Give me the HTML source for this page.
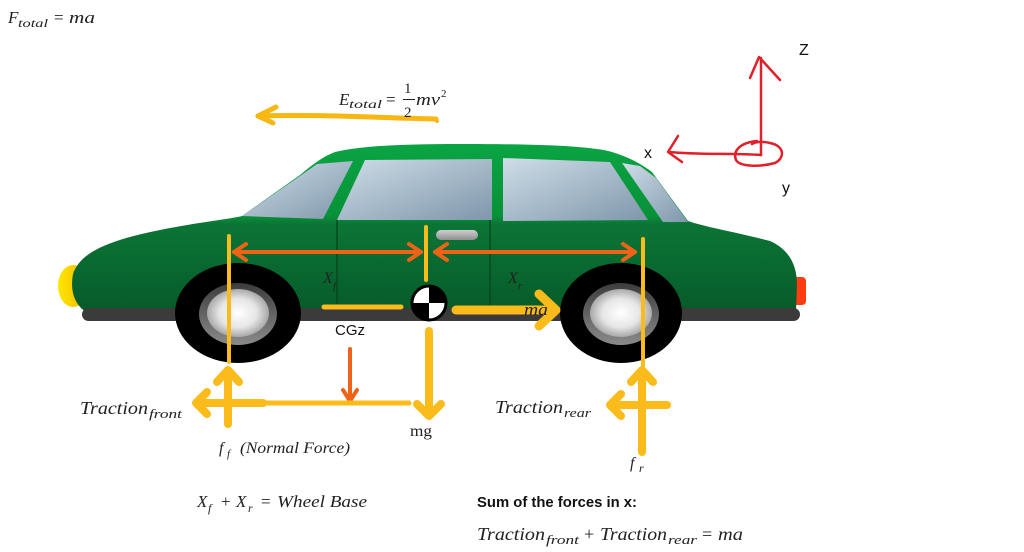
<!DOCTYPE html>
<html><head><meta charset="utf-8"><style>
html,body{margin:0;padding:0;background:#fff;}
svg{display:block;}
.m{font-family:"Liberation Serif",serif;font-style:italic;fill:#222;}
.s{font-family:"Liberation Sans",sans-serif;fill:#111;}
</style></head><body>
<svg width="1024" height="552" viewBox="0 0 1024 552" xmlns="http://www.w3.org/2000/svg">
<defs>
<linearGradient id="body" x1="0" y1="144" x2="0" y2="314" gradientUnits="userSpaceOnUse">
<stop offset="0" stop-color="#0aa443"/>
<stop offset="0.42" stop-color="#089238"/>
<stop offset="0.47" stop-color="#0b7535"/>
<stop offset="1" stop-color="#075a29"/>
</linearGradient>
<linearGradient id="glass" x1="0" y1="0" x2="1" y2="1">
<stop offset="0" stop-color="#cfdde8"/>
<stop offset="1" stop-color="#7e97ab"/>
</linearGradient>
<radialGradient id="hub" cx="0.5" cy="0.5" r="0.5">
<stop offset="0" stop-color="#ffffff"/>
<stop offset="0.6" stop-color="#e6e6e6"/>
<stop offset="1" stop-color="#a8a8a8"/>
</radialGradient>
<linearGradient id="ring" x1="0" y1="0" x2="0" y2="1">
<stop offset="0" stop-color="#3c3c3c"/>
<stop offset="1" stop-color="#8a8a8a"/>
</linearGradient>
<linearGradient id="handle" x1="0" y1="0" x2="0" y2="1">
<stop offset="0" stop-color="#cfcfcf"/>
<stop offset="1" stop-color="#8e8e8e"/>
</linearGradient>
<linearGradient id="flight" x1="0" y1="0" x2="1" y2="0">
<stop offset="0" stop-color="#ffe600"/>
<stop offset="1" stop-color="#f5b800"/>
</linearGradient>
</defs>

<!-- lights -->
<ellipse cx="73" cy="286" rx="15" ry="21" fill="url(#flight)"/>
<rect x="790" y="277" width="16" height="28" rx="4" fill="#ff3b12"/>

<!-- body -->
<path d="M86,312 C74,304 70,290 73,274 C80,252 110,240 160,230 C200,222 230,219 242,216 L300,175 C312,165 322,157 335,152 C360,146 400,144 460,144 C540,144 590,146 612,152 C628,157 640,163 652,172 L688,221 C705,227 740,233 770,241 C790,250 797,266 797,285 L796,312 Z" fill="url(#body)"/>

<!-- windows -->
<polygon points="242,216 300,176 317,164 353,161 323,219" fill="url(#glass)"/>
<polygon points="365,160 492,159 492,220 337,220" fill="url(#glass)"/>
<polygon points="503,158 610,162 648,220 503,221" fill="url(#glass)"/>
<polygon points="622,163 640,166 656,178 688,222 663,222" fill="url(#glass)"/>

<!-- door seams & handle -->
<line x1="337" y1="220" x2="337" y2="310" stroke="#06491f" stroke-width="1.5"/>
<line x1="490" y1="220" x2="490" y2="306" stroke="#06491f" stroke-width="1.5"/>
<rect x="436" y="230" width="42" height="10" rx="5" fill="url(#handle)"/>

<!-- skirt -->
<rect x="82" y="308" width="718" height="13" rx="6.5" fill="#3b3b3b"/>

<!-- wheels -->
<ellipse cx="238" cy="313" rx="63" ry="50" fill="#000"/>
<ellipse cx="238" cy="314" rx="39" ry="31" fill="url(#ring)"/>
<ellipse cx="238" cy="313" rx="31" ry="24" fill="url(#hub)"/>
<ellipse cx="621" cy="313" rx="61" ry="50" fill="#000"/>
<ellipse cx="621" cy="314" rx="38" ry="31" fill="url(#ring)"/>
<ellipse cx="621" cy="313" rx="31" ry="24" fill="url(#hub)"/>

<!-- orange dimension arrows -->
<g stroke="#ee6318" stroke-width="4" stroke-linecap="round" stroke-linejoin="round" fill="none">
<line x1="234" y1="252" x2="421" y2="252"/>
<polyline points="246,244 234,252 246,260"/>
<polyline points="409,244 421,252 409,260"/>
<line x1="435" y1="252" x2="635" y2="252"/>
<polyline points="447,244 435,252 447,260"/>
<polyline points="623,244 635,252 623,260"/>
<line x1="350" y1="349" x2="350" y2="400"/>
<polyline points="343,390 350,401 357,390"/>
</g>

<!-- yellow lines/arrows -->
<g stroke="#fbbb1a" stroke-linecap="round" stroke-linejoin="round" fill="none">
<line x1="229" y1="236" x2="229" y2="362" stroke-width="4"/>
<line x1="426" y1="227" x2="426" y2="280" stroke-width="4"/>
<line x1="643" y1="239" x2="643" y2="366" stroke-width="4"/>
<line x1="324" y1="307" x2="401" y2="307" stroke-width="5"/>
<!-- mg -->
<line x1="429" y1="331" x2="429" y2="414" stroke-width="8"/>
<polyline points="417,404 429,416 441,404" stroke-width="8"/>
<!-- ma -->
<line x1="456" y1="310" x2="555" y2="310" stroke-width="9"/>
<polyline points="539,294 556,310 539,326" stroke-width="9"/>
<!-- front -->
<line x1="228" y1="371" x2="228" y2="424" stroke-width="8"/>
<polyline points="217,382 228,370 239,382" stroke-width="8"/>
<line x1="197" y1="403" x2="263" y2="403" stroke-width="8"/>
<line x1="263" y1="403" x2="409" y2="403" stroke-width="5"/>
<polyline points="207,392 196,403 207,414" stroke-width="8"/>
<!-- rear -->
<line x1="642" y1="371" x2="642" y2="452" stroke-width="8"/>
<polyline points="631,382 642,370 653,382" stroke-width="8"/>
<line x1="611" y1="405" x2="667" y2="405" stroke-width="8"/>
<polyline points="621,394 610,405 621,416" stroke-width="8"/>
</g>

<!-- CG symbol -->
<circle cx="429" cy="303" r="17" fill="#fff" stroke="#000" stroke-width="3"/>
<path d="M429,303 L429,286 A17,17 0 0 1 446,303 Z" fill="#000"/>
<path d="M429,303 L429,320 A17,17 0 0 1 412,303 Z" fill="#000"/>

<!-- energy arrow -->
<g stroke="#f8b711" stroke-width="5" stroke-linecap="round" stroke-linejoin="round" fill="none">
<path d="M436,119 C380,118 320,114 258,116"/>
<polyline points="276,107 258,116 273,123"/>
</g>
<circle cx="437" cy="121" r="2" fill="#f8b711"/>

<!-- red axes -->
<g stroke="#e0202a" stroke-width="2.5" stroke-linecap="round" stroke-linejoin="round" fill="none">
<line x1="761" y1="155" x2="761" y2="58"/>
<polyline points="750,78 759,57 780,80"/>
<path d="M761,155 C730,153 700,155 669,152"/>
<polyline points="678,136 668,152 682,162"/>
<path d="M757,141 C738,143 733,152 736,160 C740,167 760,167 775,163 C785,158 785,146 770,143 C762,141 755,142 752,144"/>
</g>
<text x="799" y="55" class="s" font-size="16">Z</text>
<text x="644" y="158" class="s" font-size="16">x</text>
<text x="782" y="193" class="s" font-size="16">y</text>

<!-- formulas -->
<text x="8" y="23" class="m" font-size="17">F</text>
<text x="18" y="27" class="m" font-size="12" textLength="30" lengthAdjust="spacingAndGlyphs">total</text>
<text x="54" y="23" font-family="Liberation Serif,serif" font-size="17" fill="#222">=</text>
<text x="69" y="23" class="m" font-size="17" textLength="26" lengthAdjust="spacingAndGlyphs">ma</text>

<text x="339" y="105" class="m" font-size="17">E</text>
<text x="349" y="108" class="m" font-size="12" textLength="33" lengthAdjust="spacingAndGlyphs">total</text>
<text x="386" y="105" font-family="Liberation Serif,serif" font-size="17" fill="#222">=</text>
<text x="404" y="93" font-family="Liberation Serif,serif" font-size="15" fill="#222">1</text>
<line x1="403" y1="99.5" x2="415" y2="99.5" stroke="#222" stroke-width="1"/>
<text x="404" y="117" font-family="Liberation Serif,serif" font-size="15" fill="#222">2</text>
<text x="416" y="105" class="m" font-size="17" textLength="24" lengthAdjust="spacingAndGlyphs">mv</text>
<text x="441" y="97" font-family="Liberation Serif,serif" font-size="11" fill="#222">2</text>

<text x="323" y="283" class="m" font-size="16">X</text>
<text x="333" y="289" class="m" font-size="11">f</text>
<text x="508" y="283" class="m" font-size="16">X</text>
<text x="518" y="289" class="m" font-size="11">r</text>

<text x="335" y="335" class="s" font-size="15" textLength="30" lengthAdjust="spacingAndGlyphs">CGz</text>
<text x="524" y="315" class="m" font-size="17" textLength="24" lengthAdjust="spacingAndGlyphs">ma</text>
<text x="410" y="436" font-family="Liberation Serif,serif" font-size="16" fill="#222" textLength="22" lengthAdjust="spacingAndGlyphs">mg</text>

<text x="80" y="414" class="m" font-size="18" textLength="68" lengthAdjust="spacingAndGlyphs">Traction</text>
<text x="149" y="418" class="m" font-size="13" textLength="33" lengthAdjust="spacingAndGlyphs">front</text>

<text x="219" y="453" class="m" font-size="16">f</text>
<text x="227" y="457" class="m" font-size="11">f</text>
<text x="240" y="453" class="m" font-size="16" textLength="110" lengthAdjust="spacingAndGlyphs">(Normal Force)</text>

<text x="495" y="413" class="m" font-size="18" textLength="68" lengthAdjust="spacingAndGlyphs">Traction</text>
<text x="564" y="417" class="m" font-size="13" textLength="27" lengthAdjust="spacingAndGlyphs">rear</text>

<text x="630" y="468" class="m" font-size="16">f</text>
<text x="639" y="472" class="m" font-size="12">r</text>

<text x="197" y="507" class="m" font-size="17">X</text>
<text x="208" y="512" class="m" font-size="12">f</text>
<text x="221" y="507" font-family="Liberation Serif,serif" font-size="17" fill="#222">+</text>
<text x="236" y="507" class="m" font-size="17">X</text>
<text x="248" y="512" class="m" font-size="12">r</text>
<text x="261" y="507" font-family="Liberation Serif,serif" font-size="17" fill="#222">=</text>
<text x="277" y="507" class="m" font-size="17" textLength="90" lengthAdjust="spacingAndGlyphs">Wheel Base</text>

<text x="477" y="507" class="s" font-size="15" font-weight="bold" textLength="160" lengthAdjust="spacingAndGlyphs">Sum of the forces in x:</text>

<text x="477" y="540" class="m" font-size="18" textLength="68" lengthAdjust="spacingAndGlyphs">Traction</text>
<text x="546" y="544" class="m" font-size="13" textLength="33" lengthAdjust="spacingAndGlyphs">front</text>
<text x="584" y="540" font-family="Liberation Serif,serif" font-size="18" fill="#222">+</text>
<text x="600" y="540" class="m" font-size="18" textLength="67" lengthAdjust="spacingAndGlyphs">Traction</text>
<text x="668" y="544" class="m" font-size="13" textLength="29" lengthAdjust="spacingAndGlyphs">rear</text>
<text x="702" y="540" font-family="Liberation Serif,serif" font-size="18" fill="#222">=</text>
<text x="718" y="540" class="m" font-size="18" textLength="25" lengthAdjust="spacingAndGlyphs">ma</text>
</svg>
</body></html>
